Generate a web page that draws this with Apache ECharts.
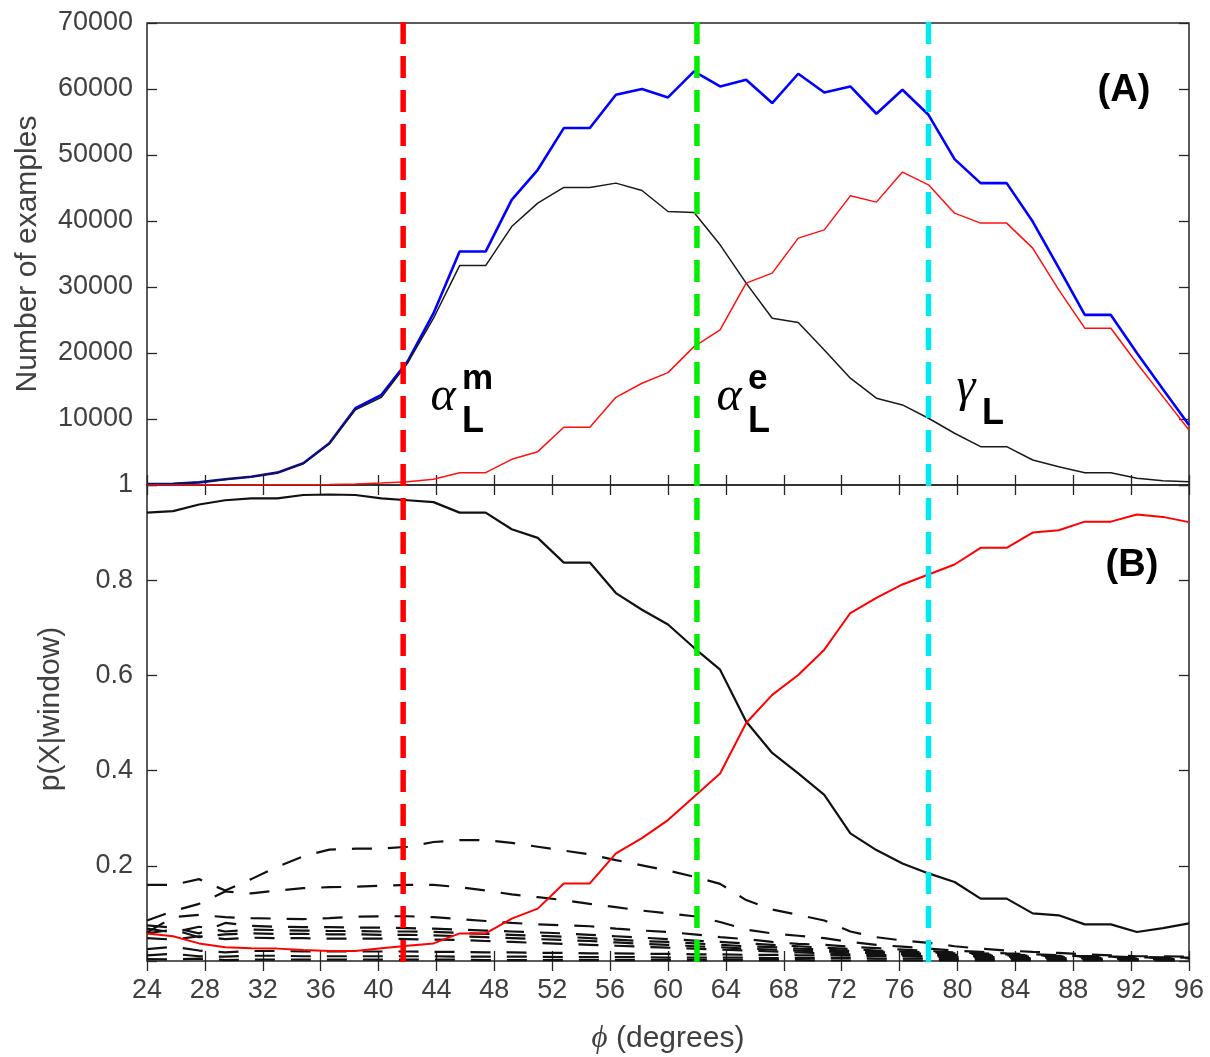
<!DOCTYPE html>
<html lang="en">
<head>
    <meta charset="UTF-8">
    <title>phi windows</title>
    <script src="https://cdn.jsdelivr.net/npm/echarts@6.0.0/dist/echarts.min.js"></script>
    <style>
        body { margin: 0; background: #fff; }
        #main { width: 1210px; height: 1057px; }
    </style>
</head>
<body>
<div id="main"></div>
<script>
    // window centre angles (degrees)
    var phi = [24, 25.8, 27.6, 29.4, 31.2, 33, 34.8, 36.6, 38.4, 40.2,
        42, 43.8, 45.6, 47.4, 49.2, 51, 52.8, 54.6, 56.4, 58.2,
        60, 61.8, 63.6, 65.4, 67.2, 69, 70.8, 72.6, 74.4, 76.2,
        78, 79.8, 81.6, 83.4, 85.2, 87, 88.8, 90.6, 92.4, 94.2, 96];

    // (A) number of examples
    var totalCount = [150, 200, 400, 860, 1260, 1870, 3290, 6320, 11630, 13650,
        18690, 26030, 35370, 35370, 43210, 47760, 54080, 54080, 59130, 59990,
        58720, 62660, 60390, 61400, 57870, 62310, 59480, 60390, 56250, 59890,
        56090, 49380, 45740, 45740, 39920, 32900, 25770, 25770, 20000, 14500, 9100];
    var blackCount = [150, 200, 400, 850, 1250, 1850, 3250, 6250, 11400, 13300,
        18450, 25270, 33250, 33250, 39160, 42710, 45080, 45080, 45740, 44620,
        41440, 41290, 36390, 30580, 25270, 24610, 20470, 16180, 13150, 12130,
        10110, 7840, 5810, 5810, 3790, 2770, 1860, 1860, 1010, 650, 500];
    var redCount = [0, 0, 0, 0, 10, 20, 40, 70, 150, 300,
        500, 860, 1870, 1870, 3890, 5050, 8740, 8740, 13290, 15420,
        17030, 20970, 23500, 30580, 32100, 37400, 38660, 43810, 42860, 47410,
        45480, 41190, 39680, 39680, 35890, 29560, 23760, 23760, 18450, 13390, 8340];

    // (B) p(X|window)
    var pBlack = [0.942, 0.945, 0.959, 0.968, 0.972, 0.972, 0.979, 0.980, 0.979, 0.972,
        0.968, 0.964, 0.942, 0.942, 0.907, 0.889, 0.837, 0.837, 0.773, 0.738,
        0.707, 0.658, 0.612, 0.503, 0.437, 0.394, 0.349, 0.268, 0.233, 0.205,
        0.184, 0.166, 0.131, 0.131, 0.100, 0.096, 0.077, 0.077, 0.061, 0.069, 0.079];
    var pRed = [0.058, 0.052, 0.037, 0.029, 0.027, 0.026, 0.023, 0.021, 0.021, 0.027,
        0.032, 0.037, 0.058, 0.058, 0.089, 0.110, 0.163, 0.163, 0.226, 0.258,
        0.296, 0.345, 0.394, 0.500, 0.559, 0.601, 0.654, 0.731, 0.763, 0.791,
        0.812, 0.833, 0.868, 0.868, 0.900, 0.905, 0.923, 0.923, 0.938, 0.933, 0.922];

    // the other classes (dashed)
    var pOther1 = [0.160, 0.160, 0.172, 0.148, 0.172, 0.198, 0.220, 0.234, 0.236, 0.236,
        0.240, 0.250, 0.254, 0.254, 0.248, 0.240, 0.232, 0.224, 0.212, 0.201,
        0.190, 0.177, 0.162, 0.128, 0.108, 0.097, 0.085, 0.062, 0.050, 0.043,
        0.038, 0.031, 0.026, 0.022, 0.019, 0.017, 0.014, 0.012, 0.010, 0.010, 0.009];
    var pOther2 = [0.085, 0.105, 0.120, 0.146, 0.142, 0.148, 0.153, 0.155, 0.156, 0.158,
        0.160, 0.160, 0.155, 0.148, 0.140, 0.134, 0.128, 0.120, 0.113, 0.106,
        0.100, 0.094, 0.082, 0.066, 0.058, 0.053, 0.048, 0.040, 0.034, 0.030,
        0.026, 0.022, 0.019, 0.016, 0.014, 0.012, 0.010, 0.009, 0.008, 0.007, 0.007];
    var pOther3 = [0.060, 0.092, 0.097, 0.092, 0.090, 0.089, 0.088, 0.090, 0.093, 0.094,
        0.094, 0.092, 0.088, 0.084, 0.080, 0.077, 0.075, 0.073, 0.068, 0.064,
        0.061, 0.056, 0.050, 0.046, 0.040, 0.036, 0.034, 0.030, 0.027, 0.024,
        0.021, 0.018, 0.016, 0.014, 0.012, 0.011, 0.010, 0.009, 0.008, 0.007, 0.006];
    var pOther4 = [0.075, 0.070, 0.058, 0.080, 0.074, 0.072, 0.071, 0.071, 0.070, 0.070,
        0.069, 0.068, 0.066, 0.064, 0.062, 0.060, 0.058, 0.055, 0.052, 0.049,
        0.046, 0.043, 0.040, 0.037, 0.034, 0.031, 0.028, 0.025, 0.022, 0.020,
        0.018, 0.016, 0.014, 0.012, 0.011, 0.010, 0.009, 0.008, 0.007, 0.006, 0.006];
    var pOther5 = [0.068, 0.060, 0.072, 0.062, 0.066, 0.065, 0.064, 0.063, 0.063, 0.062,
        0.062, 0.061, 0.059, 0.057, 0.055, 0.053, 0.051, 0.048, 0.045, 0.042,
        0.040, 0.037, 0.034, 0.031, 0.029, 0.026, 0.024, 0.021, 0.019, 0.017,
        0.015, 0.013, 0.012, 0.010, 0.009, 0.008, 0.007, 0.006, 0.005, 0.005, 0.005];
    var pOther6 = [0.058, 0.066, 0.050, 0.056, 0.058, 0.057, 0.057, 0.056, 0.056, 0.055,
        0.055, 0.054, 0.052, 0.050, 0.048, 0.046, 0.044, 0.042, 0.039, 0.036,
        0.034, 0.031, 0.029, 0.026, 0.024, 0.022, 0.020, 0.018, 0.016, 0.014,
        0.012, 0.011, 0.010, 0.009, 0.008, 0.007, 0.006, 0.005, 0.004, 0.004, 0.004];
    var pOther7 = [0.048, 0.045, 0.052, 0.046, 0.049, 0.048, 0.048, 0.047, 0.047, 0.047,
        0.046, 0.045, 0.044, 0.042, 0.040, 0.038, 0.036, 0.034, 0.032, 0.030,
        0.028, 0.026, 0.024, 0.022, 0.020, 0.018, 0.016, 0.014, 0.013, 0.011,
        0.010, 0.009, 0.008, 0.007, 0.006, 0.005, 0.005, 0.004, 0.004, 0.003, 0.003];
    var pOther8 = [0.025, 0.030, 0.022, 0.018, 0.021, 0.021, 0.020, 0.020, 0.020, 0.020,
        0.020, 0.019, 0.019, 0.018, 0.018, 0.017, 0.017, 0.016, 0.016, 0.015,
        0.015, 0.014, 0.014, 0.013, 0.013, 0.012, 0.012, 0.011, 0.010, 0.010,
        0.009, 0.008, 0.008, 0.007, 0.006, 0.006, 0.005, 0.005, 0.004, 0.004, 0.004];
    var pOther9 = [0.012, 0.015, 0.010, 0.009, 0.011, 0.011, 0.010, 0.010, 0.010, 0.010,
        0.010, 0.010, 0.009, 0.009, 0.009, 0.009, 0.008, 0.008, 0.008, 0.008,
        0.007, 0.007, 0.007, 0.007, 0.006, 0.006, 0.006, 0.006, 0.005, 0.005,
        0.005, 0.004, 0.004, 0.004, 0.004, 0.003, 0.003, 0.003, 0.003, 0.002, 0.002];
    var pOther10 = [0.004, 0.003, 0.005, 0.002, 0.003, 0.003, 0.003, 0.003, 0.003, 0.003,
        0.003, 0.003, 0.003, 0.002, 0.002, 0.002, 0.002, 0.002, 0.002, 0.002,
        0.002, 0.002, 0.002, 0.002, 0.002, 0.002, 0.001, 0.001, 0.001, 0.001,
        0.001, 0.001, 0.001, 0.001, 0.001, 0.001, 0.001, 0.001, 0.001, 0.001, 0.001];
    var dashedSets = [pOther1, pOther2, pOther3, pOther4, pOther5, pOther6, pOther7, pOther8, pOther9, pOther10];

    // vertical markers (alpha_L^m, alpha_L^e, gamma_L)
    var markerPhi = [41.7, 62.0, 78.0];
    var markerColor = ['#ff0000', '#00ee00', '#00e8f0'];

    var topYLabels = ['1', '10000', '20000', '30000', '40000', '50000', '60000', '70000'];
    var botYLabels = ['', '0.2', '0.4', '0.6', '0.8', ''];

    var font = 'Liberation Sans';
    var tickColor = '#262626';
    var labelColor = '#404040';

    function pairs(ys) {
        return phi.map(function (x, i) { return [x, ys[i]]; });
    }

    var myChart = echarts.init(document.getElementById('main'));

    function xAx(grid, pos, labels) {
        return {
            type: 'value', gridIndex: grid, position: pos,
            min: 24, max: 96, interval: 4,
            axisLine: {show: false},
            axisTick: {show: true, inside: true, length: 10, lineStyle: {color: tickColor, width: 1.3}},
            axisLabel: {show: labels, margin: 16, fontSize: 27, fontFamily: font, color: labelColor},
            splitLine: {show: false}
        };
    }
    function yAx(grid, pos, max, interval, labels) {
        return {
            type: 'value', gridIndex: grid, position: pos,
            min: 0, max: max, interval: interval,
            axisLine: {show: false},
            axisTick: {show: true, inside: true, length: 10, lineStyle: {color: tickColor, width: 1.3}},
            axisLabel: labels ? {
                show: true, margin: 14, fontSize: 27, fontFamily: font, color: labelColor,
                formatter: function (v, idx) { return labels[idx]; }
            } : {show: false},
            splitLine: {show: false}
        };
    }

    var xTopB = xAx(0, 'bottom', false);
    var xTopT = xAx(0, 'top', false);
    var xBotB = xAx(1, 'bottom', true);
    xBotB.name = '{p|ϕ} (degrees)';
    xBotB.nameLocation = 'middle';
    xBotB.nameGap = 62;
    xBotB.nameTextStyle = {
        fontSize: 30, fontFamily: font, color: labelColor,
        rich: {p: {fontSize: 31, fontFamily: 'Liberation Serif', fontStyle: 'italic', color: labelColor}}
    };
    var xBotT = xAx(1, 'top', false);

    var yTopL = yAx(0, 'left', 70000, 10000, topYLabels);
    yTopL.name = 'Number of examples';
    yTopL.nameLocation = 'middle';
    yTopL.nameGap = 104;
    yTopL.nameTextStyle = {fontSize: 30, fontFamily: font, color: labelColor};
    var yTopR = yAx(0, 'right', 70000, 10000, null);
    var yBotL = yAx(1, 'left', 1, 0.2, botYLabels);
    yBotL.name = 'p(X|window)';
    yBotL.nameLocation = 'middle';
    yBotL.nameGap = 81;
    yBotL.nameTextStyle = {fontSize: 30, fontFamily: font, color: labelColor, padding: [0, 0, 0, 28]};
    var yBotR = yAx(1, 'right', 1, 0.2, null);

    var series = [];
    series.push({
        type: 'line', xAxisIndex: 0, yAxisIndex: 0, data: pairs(totalCount),
        showSymbol: false, lineStyle: {color: '#0000ff', width: 2.6}, z: 3
    });
    series.push({
        type: 'line', xAxisIndex: 0, yAxisIndex: 0, data: pairs(blackCount),
        showSymbol: false, lineStyle: {color: '#1a1a1a', width: 1.5}, z: 4
    });
    series.push({
        type: 'line', xAxisIndex: 0, yAxisIndex: 0, data: pairs(redCount),
        showSymbol: false, lineStyle: {color: '#ff1010', width: 1.5}, z: 4
    });
    dashedSets.forEach(function (d) {
        series.push({
            type: 'line', xAxisIndex: 2, yAxisIndex: 2, data: pairs(d),
            showSymbol: false, lineStyle: {color: '#111', width: 2.2, type: [20, 16]}, z: 2
        });
    });
    series.push({
        type: 'line', xAxisIndex: 2, yAxisIndex: 2, data: pairs(pBlack),
        showSymbol: false, lineStyle: {color: '#111', width: 2.2}, z: 3
    });
    series.push({
        type: 'line', xAxisIndex: 2, yAxisIndex: 2, data: pairs(pRed),
        showSymbol: false, lineStyle: {color: '#ff0000', width: 2}, z: 3
    });
    markerPhi.forEach(function (p, k) {
        series.push({
            type: 'line', xAxisIndex: 4, yAxisIndex: 4, data: [[p, 0], [p, 1]],
            showSymbol: false, silent: true,
            lineStyle: {color: markerColor[k], width: 5.5, type: [22, 12]}, z: 6
        });
    });

    function txt(x, y, s, f, align) {
        return {
            type: 'text', x: x, y: y, z: 10,
            style: {text: s, font: f, fill: '#000', textAlign: align, textVerticalAlign: 'middle', align: align, verticalAlign: 'middle'}
        };
    }
    var greek = 'italic 48px "Liberation Serif"';
    var supF = 'bold 35px "Liberation Sans"';
    var subF = 'bold 36px "Liberation Sans"';

    option = {
        animation: false,
        backgroundColor: '#fff',
        grid: [
            {left: 147, right: 21, top: 23, height: 462, show: true, borderColor: tickColor, borderWidth: 1.5, backgroundColor: 'transparent'},
            {left: 147, right: 21, top: 485, height: 476, show: true, borderColor: tickColor, borderWidth: 1.5, backgroundColor: 'transparent'},
            {left: 147, right: 21, top: 18, height: 944}
        ],
        xAxis: [xTopB, xTopT, xBotB, xBotT,
            {type: 'value', gridIndex: 2, min: 24, max: 96, show: false}],
        yAxis: [yTopL, yTopR, yBotL, yBotR,
            {type: 'value', gridIndex: 2, min: 0, max: 1, show: false}],
        series: series,
        graphic: [
            txt(443, 397, 'α', greek, 'center'),
            txt(462, 379, 'm', supF, 'left'),
            txt(462, 422, 'L', subF, 'left'),
            txt(729, 397, 'α', greek, 'center'),
            txt(748, 379, 'e', supF, 'left'),
            txt(748, 422, 'L', subF, 'left'),
            txt(966, 388, 'γ', greek, 'center'),
            txt(982, 414, 'L', subF, 'left'),
            txt(1124, 91, '(A)', 'bold 38px "Liberation Sans"', 'center'),
            txt(1132, 566, '(B)', 'bold 38px "Liberation Sans"', 'center')
        ]
    };
    myChart.setOption(option);
</script>
</body>
</html>
